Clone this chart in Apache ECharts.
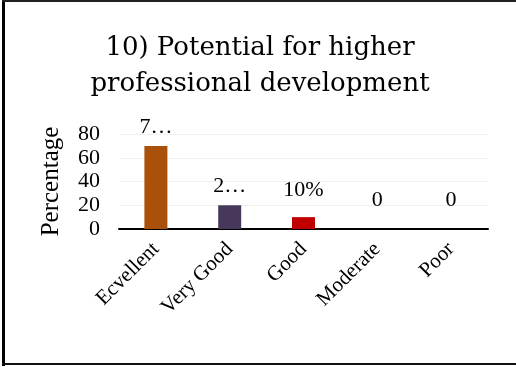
<!DOCTYPE html>
<html><head><meta charset="utf-8">
<script src="https://cdn.jsdelivr.net/npm/echarts@6/dist/echarts.min.js"></script>
<style>html,body{margin:0;padding:0;background:#fff}#c{width:516px;height:367px}</style>
</head><body><div id="c"></div>
<script>
const categories = ['Ecvellent', 'Very Good', 'Good', 'Moderate', 'Poor'];
const values = [70, 20, 10, 0, 0];
const valueLabels = ['7…', '2…', '10%', '0', '0'];
const barColors = ['#A9510A', '#47375A', '#C00000', '#888888', '#888888'];
const labelGaps = [8, 8, 16, 18, 18];
const yTicks = [0, 20, 40, 60, 80];
const titleLines = ['10) Potential for higher', 'professional development'];

const chart = echarts.init(document.getElementById('c'), null, {renderer: 'canvas'});
const serif = 'Times New Roman';
const titleFont = 'DejaVu Serif';
chart.setOption({
  animation: false,
  backgroundColor: '#fff',
  grid: {left: 119, right: 28, top: 134, bottom: 138, containLabel: false},
  xAxis: {
    type: 'category', data: categories,
    axisLine: {lineStyle: {color: '#000', width: 2}},
    axisTick: {show: false},
    axisLabel: {rotate: 45, fontFamily: serif, fontSize: 21, color: '#000', margin: 17}
  },
  yAxis: {
    type: 'value', min: yTicks[0], max: yTicks[yTicks.length - 1], interval: 20,
    name: 'Percentage', nameLocation: 'middle', nameGap: 55, nameRotate: 90,
    nameTextStyle: {fontFamily: serif, fontSize: 25, color: '#000'},
    axisLine: {show: false}, axisTick: {show: false},
    axisLabel: {fontFamily: serif, fontSize: 22, color: '#000', margin: 19},
    splitLine: {lineStyle: {color: '#f0f0f0', width: 1}}
  },
  series: [{
    type: 'bar', barWidth: 23,
    data: values.map((v, i) => ({value: v, itemStyle: {color: barColors[i]}, label: {distance: labelGaps[i]}})),
    label: {
      show: true, position: 'top',
      formatter: p => valueLabels[p.dataIndex],
      fontFamily: serif, fontSize: 22, color: '#000'
    }
  }],
  graphic: [
    {type: 'rect', shape: {x: 2, y: 0, width: 3, height: 366}, style: {fill: '#000'}},
    {type: 'rect', shape: {x: 2, y: 0, width: 514, height: 2}, style: {fill: '#222'}},
    {type: 'rect', shape: {x: 2, y: 363, width: 514, height: 2}, style: {fill: '#111'}},
    {type: 'text', x: 260, y: 30, style: {text: titleLines.join('\n'), fontFamily: titleFont, fontSize: 26, lineHeight: 36, fill: '#000', align: 'center', verticalAlign: 'top'}}
  ]
});
</script></body></html>
